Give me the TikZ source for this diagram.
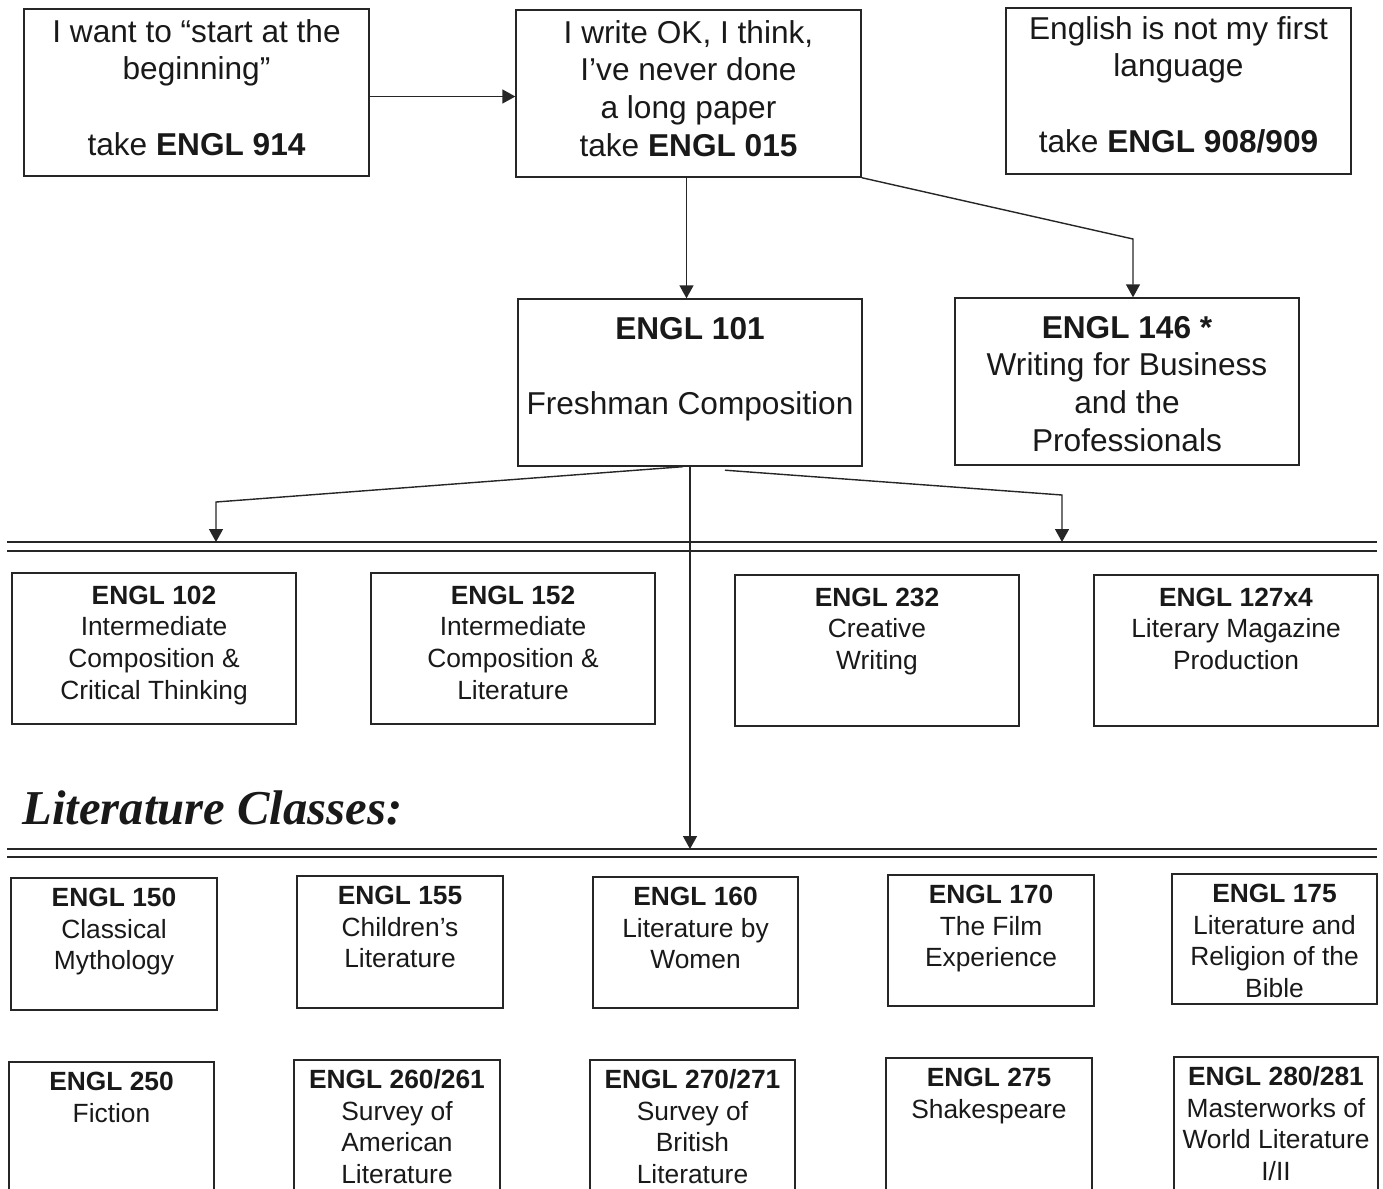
\documentclass[tikz,border=0pt]{standalone}
\usepackage{fontspec}
\setmainfont{Liberation Sans}
\newfontfamily\titlefont{Liberation Serif}
\usepackage{xcolor}
\usepackage{tikz}
\usetikzlibrary{arrows.meta,positioning,calc}

% box text: width, height, first baseline, lines
\newcommand{\course}[4]{\parbox[c][#2][t]{#1}{\centering\rule{0pt}{#3}#4}}

\begin{document}
\begin{tikzpicture}[
    x=0.02cm, y=-0.02cm,
    box/.style={draw=black!85, line width=0.8pt, inner sep=0pt, text=black!90},
    big/.style={box, font=\fontsize{18}{21.6}\selectfont},
    small/.style={box, font=\fontsize{15}{18.2}\selectfont},
    arrow/.style={-{Triangle[width=0.28cm, length=0.26cm]}, line width=0.8pt, draw=black!85},
    rule/.style={line width=1.1pt, draw=black!85}
]
    \useasboundingbox (0,0) rectangle (1383,1188);
    \clip (0,0) rectangle (1383,1188);

    % Where to start
    \node[big] (b914) at (196.5,92.5) {\course{6.9cm}{3.34cm}{0.66cm}{I want to “start at the\\beginning”\\[0.76cm]take \textbf{ENGL 914}}};
    \node[big] (b015) at (688.5,93.5) {\course{6.9cm}{3.34cm}{0.66cm}{I write OK, I think,\\I’ve never done\\a long paper\\take \textbf{ENGL 015}}};
    \node[big] (b908) at (1178.5,91) {\course{6.9cm}{3.32cm}{0.62cm}{English is not my first\\language\\[0.76cm]take \textbf{ENGL 908/909}}};

    \node[big] (b101) at (690,382.5) {\course{6.88cm}{3.34cm}{0.8cm}{\textbf{ENGL 101}\\[0.76cm]Freshman Composition}};
    \node[big] (b146) at (1127,381.5) {\course{6.88cm}{3.34cm}{0.8cm}{\textbf{ENGL 146 *}\\Writing for Business\\and the\\Professionals}};

    % Rules
    \coordinate (r1) at (0,542);
    \coordinate (r2) at (0,849);
    \draw[rule] (7,542) -- (1377,542);
    \draw[rule] (7,551) -- (1377,551);
    \draw[rule] (7,849) -- (1377,849);
    \draw[rule] (7,857) -- (1377,857);

    % Writing classes
    \node[small] (b102) at (154,648.5) {\course{5.68cm}{3.02cm}{0.62cm}{\textbf{ENGL 102}\\Intermediate\\Composition \&\\Critical Thinking}};
    \node[small] (b152) at (513,648.5) {\course{5.68cm}{3.02cm}{0.62cm}{\textbf{ENGL 152}\\Intermediate\\Composition \&\\Literature}};
    \node[small] (b232) at (877,650.5) {\course{5.68cm}{3.02cm}{0.62cm}{\textbf{ENGL 232}\\Creative\\Writing}};
    \node[small] (b127) at (1236,650.5) {\course{5.68cm}{3.02cm}{0.62cm}{\textbf{ENGL 127x4}\\Literary Magazine\\Production}};

    \node[anchor=base west, inner sep=0pt, text=black!90, font=\titlefont\bfseries\itshape\fontsize{27.7}{32}\selectfont] (lit) at (22,824) {Literature Classes:};

    % Literature classes
    \node[small] (b150) at (114,944) {\course{4.12cm}{2.64cm}{0.56cm}{\textbf{ENGL 150}\\Classical\\Mythology}};
    \node[small] (b155) at (400,942) {\course{4.12cm}{2.64cm}{0.56cm}{\textbf{ENGL 155}\\Children’s\\Literature}};
    \node[small] (b160) at (695.5,942.5) {\course{4.1cm}{2.62cm}{0.56cm}{\textbf{ENGL 160}\\Literature by\\Women}};
    \node[small] (b170) at (991,940.5) {\course{4.12cm}{2.62cm}{0.56cm}{\textbf{ENGL 170}\\The Film\\Experience}};
    \node[small] (b175) at (1274.5,939) {\course{4.1cm}{2.6cm}{0.56cm}{\textbf{ENGL 175}\\Literature and\\Religion of the\\Bible}};

    \node[small] (b250) at (111.5,1132) {\course{4.1cm}{2.8cm}{0.56cm}{\textbf{ENGL 250}\\Fiction}};
    \node[small] (b260) at (397,1130) {\course{4.12cm}{2.8cm}{0.56cm}{\textbf{ENGL 260/261}\\Survey of\\American\\Literature}};
    \node[small] (b270) at (692.5,1130) {\course{4.1cm}{2.8cm}{0.56cm}{\textbf{ENGL 270/271}\\Survey of\\British\\Literature}};
    \node[small] (b275) at (989,1128) {\course{4.12cm}{2.8cm}{0.56cm}{\textbf{ENGL 275}\\Shakespeare}};
    \node[small] (b280) at (1276,1127) {\course{4.08cm}{2.8cm}{0.56cm}{\textbf{ENGL 280/281}\\Masterworks of\\World Literature\\I/II}};

    % Arrows
    \coordinate (c146) at (1133,239);
    \coordinate (cl) at (216,502);
    \coordinate (cr) at (1062,495);
    \draw[arrow] ([yshift=-0.08cm]b914.east) -- ([yshift=-0.08cm]b914.east -| b015.west);
    \draw[arrow] ([xshift=-0.04cm]b015.south) -- ([xshift=-0.04cm]b015.south |- b101.north);
    \draw[arrow] (b015.south east) -- (c146) -- (c146 |- b146.north);
    \draw[arrow] ([xshift=-0.14cm]b101.south) -- (cl) -- (cl |- r1);
    \draw[arrow] ([shift={(0.7cm,-0.07cm)}]b101.south) -- (cr) -- (cr |- r1);
    \draw[arrow] (b101.south) -- (b101.south |- r2);

\end{tikzpicture}
\end{document}
